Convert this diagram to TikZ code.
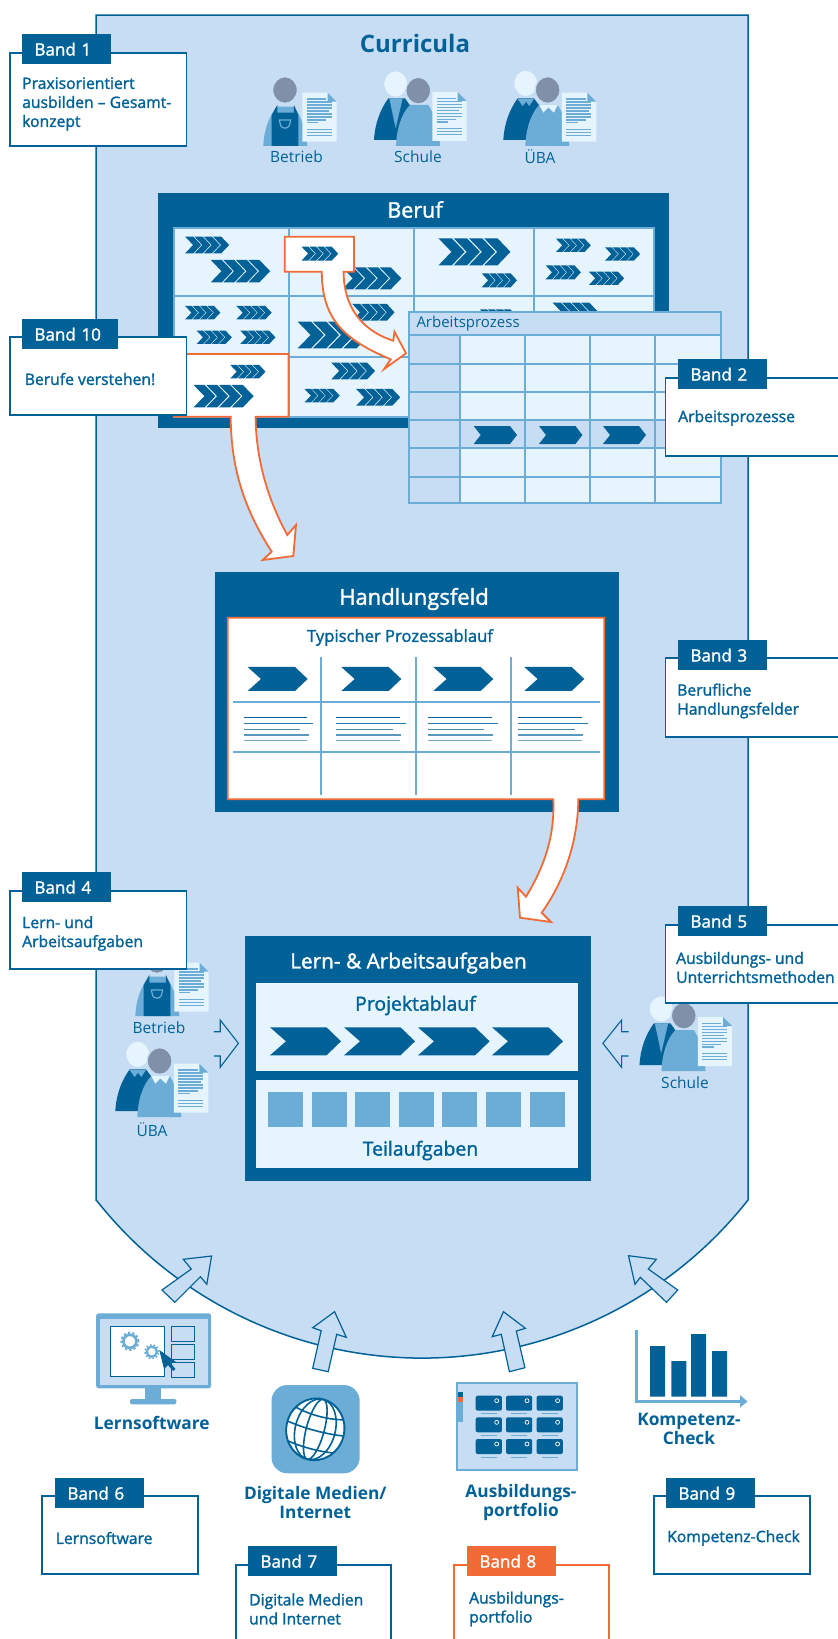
\documentclass[tikz,border=0pt]{standalone}
\usepackage{fontspec}
\setmainfont{Open Sans}
\newfontfamily\semi[FakeBold=1.6]{Open Sans}
\definecolor{dk}{HTML}{026298}
\definecolor{md}{HTML}{6BADD6}
\definecolor{bgb}{HTML}{C6DDF3}
\definecolor{lt}{HTML}{E5F4FD}
\definecolor{org}{HTML}{F26A36}
\definecolor{gry}{HTML}{8090A8}
\newcommand{\fs}[2]{\fontsize{#1}{#2}\selectfont}
\tikzset{
 tabnode/.style={anchor=north west,fill=dk,text=white,inner xsep=0pt,inner ysep=0pt,minimum height=30pt,align=left,font=\semi\fs{17}{20}},
 boxnode/.style={draw=dk,line width=1.6pt,fill=white,inner sep=0pt},
 bandtext/.style={anchor=west,align=left,text=dk,inner sep=0pt,font=\semi\fs{15.7}{19}},
 iconlabel/.style={text=dk,inner sep=0pt,font=\fs{15.5}{19}},
 boldlabel/.style={text=dk,inner sep=0pt,align=center,font=\bfseries\fs{17.3}{19}},
 whitetitle/.style={text=white,inner sep=0pt,font=\semi\fs{20.8}{24}},
 darktitle/.style={text=dk,inner sep=0pt,font=\semi\fs{19.4}{22}},
 arrowwhite/.style={fill=white,draw=org,line width=1.8pt,line join=miter},
 openarrow/.style={draw=dk,line width=1.1pt,line join=miter},
 inarrow/.style={fill=bgb,draw=dk,line width=1.2pt,line join=miter},
 docicon/.pic={
  \begin{scope}[x=0.3333pt,y=-0.3333pt]
   \fill[lt] (157,98)--(233,98)--(260,125)--(260,245)--(157,245)--cycle;
   \fill[md] (233,98)--(260,125)--(233,125)--cycle;
   \foreach \yy/\xe in {117/228,126/245,135/245,144/245,153/237,162/245,171/245,180/228,188/205,208/245,217/245,226/245}
    \draw[md,line width=1.3pt] (170,\yy)--(\xe,\yy);
  \end{scope}},
 worker/.pic={
  \begin{scope}[x=0.3333pt,y=-0.3333pt]
   \fill[md] (40,258) .. controls (42,210) and (55,175) .. (80,140) -- (132,140) .. controls (155,170) and (168,215) .. (172,258) -- cycle;
   \fill[dk] (65,258)--(65,165)--(82,135)--(82,158)--(132,158)--(132,135)--(145,165)--(145,258)--cycle;
   \draw[md,line width=1.2pt] (88,180)--(122,180)--(118,197) .. controls (112,207) and (98,207) .. (92,197) -- cycle;
   \filldraw[fill=gry,draw=bgb,line width=1.2pt] (105,90) ellipse [x radius=37,y radius=40];
   \pic at (0,0) {docicon};
  \end{scope}},
 schule/.pic={
  \begin{scope}[x=0.3333pt,y=-0.3333pt]
   \fill[dk] (372,240) .. controls (375,190) and (390,150) .. (415,115) -- (465,115) -- (490,150) -- (450,240) -- cycle;
   \fill[md] (418,115)--(458,115)--(437,205)--cycle;
   \filldraw[fill=lt,draw=bgb,line width=1.2pt] (437,72) ellipse [x radius=36,y radius=40];
   \fill[md] (438,258) .. controls (440,205) and (455,160) .. (480,135) -- (535,135) .. controls (555,165) and (568,210) .. (570,258) -- cycle;
   \filldraw[fill=gry,draw=bgb,line width=1.2pt] (505,92) ellipse [x radius=37,y radius=40];
   \begin{scope}[shift={(390,-2)}]\pic at (0,0) {docicon};\end{scope}
  \end{scope}},
 uba/.pic={
  \begin{scope}[x=0.3333pt,y=-0.3333pt]
   \fill[dk] (760,240) .. controls (763,190) and (778,150) .. (803,115) -- (852,115) -- (878,150) -- (838,240) -- cycle;
   \fill[md] (803,117)--(852,117)--(838,138)--(828,125)--(818,138)--cycle;
   \filldraw[fill=lt,draw=bgb,line width=1.2pt] (827,70) ellipse [x radius=36,y radius=40];
   \fill[md] (826,258) .. controls (828,205) and (843,160) .. (868,135) -- (923,135) .. controls (943,165) and (956,210) .. (958,258) -- cycle;
   \fill[lt] (868,135)--(923,135)--(912,158)--(895,142)--(880,158)--cycle;
   \filldraw[fill=gry,draw=bgb,line width=1.2pt] (893,90) ellipse [x radius=37,y radius=40];
   \begin{scope}[shift={(779,0)}]\pic at (0,0) {docicon};\end{scope}
  \end{scope}},
}
\newcommand{\bandbox}[9][dk]{%
 \node[boxnode,draw=#1,minimum width={(#5-#3)*1pt},minimum height={(#6-#4)*1pt}] (#2) at ({(#3+#5)/2},{(#4+#6)/2}) {};
 \bandtab{#2}{#1}{#7}{#8}#9}
\newcommand{\bandtab}[6]{%
 \node[tabnode,fill=#2,text width=#5pt] (#1tab) at (#3,#4) {\hspace*{12.3pt}#6};}
\newcommand{\chevbig}[6]{%
 \fill[dk] (#1,#3)--({#2-#6},#3)--(#2,{(#3+#4)/2})--({#2-#6},#4)--(#1,#4)--({#1+#5},{(#3+#4)/2})--cycle;}
\begin{document}
\begin{tikzpicture}[x=1pt,y=-1pt]
\useasboundingbox (0,0) rectangle (838,1639);
\clip (0,0) rectangle (838,1639);
\fill[white] (0,0) rectangle (838,1639);
% Curricula
\filldraw[fill=bgb,draw=dk,line width=1.5pt] (96,1200)--(96,15)--(748,15)--(748,1200)
  arc[start angle=321.75,end angle=218.25,radius=415pt] -- cycle;
\node[text=dk,inner sep=0pt,font=\bfseries\fs{24}{26}] (curr) at (415,43) {Curricula};
\pic at (250,60) {worker};
\pic at (250,60) {schule};
\pic at (250,60) {uba};
\node[iconlabel] (lb1) at (296.5,157) {Betrieb};
\node[iconlabel] (ls1) at (418,157) {Schule};
\node[iconlabel] (lu1) at (540,157) {ÜBA};
% Beruf
\fill[dk] (158,193) rectangle (669,428);
\node[whitetitle,font=\semi\fs{21.5}{24}] (beruf) at (415,209.5) {Beruf};
\filldraw[fill=lt,draw=md,line width=2pt] (174.4,227.7) rectangle (653.6,416.7);
\draw[md,line width=2pt] (289,227.7)--(289,416.7) (414,227.7)--(414,416.7) (534,227.7)--(534,416.7)
 (174.4,295.7)--(653.6,295.7) (174.4,356.7)--(653.6,356.7);
\begin{scope}[shift={(140,190)},x=0.3827pt,y=-0.3333pt]
 \foreach \xa/\xb/\ya/\yb in {118/233/140/190,185/340/210/277,528/683/232/298,780/968/145/226,893/985/250/292,1087/1178/146/186,1215/1307/172/212,1060/1152/226/268,1173/1265/245/285,118/210/348/388,252/344/348/388,148/240/422/462,262/354/422/462,412/600/395/475,555/665/342/392,888/985/358/400,1078/1195/338/388,500/614/518/568,430/522/597/637,565/680/597/647}{
  \pgfmathsetmacro\www{\xb-\xa}
  \foreach \i in {0,1,2,3}{
   \pgfmathsetmacro\xs{\xa+\i*0.2117*\www}
   \pgfmathsetmacro\xt{\xs+0.185*\www}
   \pgfmathsetmacro\xd{0.18*\www}
   \pgfmathsetmacro\ym{(\ya+\yb)/2}
   \fill[dk] (\xs,\ya)--(\xt,\ya)--({\xt+\xd},\ym)--(\xt,\yb)--(\xs,\yb)--({\xs+\xd},\ym)--cycle;
  }
 }
\end{scope}
% Arbeitsprozess table
\fill[lt] (408.7,312.3) rectangle (721,503.3);
\fill[bgb] (408.7,312.3) rectangle (721,335) (408.7,335) rectangle (460.3,503.3) (408.7,420.3) rectangle (721,448.3);
\draw[md,line width=2pt] (408.7,312.3) rectangle (721,503.3);
\draw[md,line width=2pt] (460.3,335)--(460.3,503.3) (525.4,335)--(525.4,503.3) (590,335)--(590,503.3) (654.7,335)--(654.7,503.3)
 (408.7,335)--(721,335) (408.7,363.7)--(721,363.7) (408.7,392)--(721,392) (408.7,420.3)--(721,420.3) (408.7,448.3)--(721,448.3) (408.7,476.7)--(721,476.7);
\node[anchor=west,text=dk,inner sep=0pt,font=\fs{15}{18}] (ap) at (416.3,323.3) {Arbeitsprozess};
\chevbig{473.7}{517}{426}{444}{7}{7}
\chevbig{539}{582.4}{426}{444}{7}{7}
\chevbig{603}{646}{426}{444}{7}{7}
% orange source box 1 with arrow
\filldraw[arrowwhite] (284.7,236.7)--(354,236.7)--(354,271.7)--(343.6,271.7)
 .. controls (343.6,305) and (360,330) .. (393.3,340.7)
 --(394.5,331.7)--(406,353.3)--(384.2,369)--(390.7,359.3)
 .. controls (345,340) and (321.8,320) .. (321.8,271.7)
 --(284.7,271.7)--cycle;
% orange source box 2 with arrow
\filldraw[arrowwhite] (173.7,354)--(288.5,354)--(288.5,416.7)--(255.6,416.7)
 .. controls (256,460) and (268,500) .. (287.3,535)
 --(296,525)--(293.3,556)--(262.7,560)--(271.7,551.7)
 .. controls (245,510) and (231,470) .. (230.7,416.7)
 --(173.7,416.7)--cycle;
\begin{scope}[shift={(140,190)},x=0.3827pt,y=-0.3333pt]
 \foreach \xa/\xb/\ya/\yb in {422/518/170/212,236/328/525/565,140/297/585/652}{
  \pgfmathsetmacro\www{\xb-\xa}
  \foreach \i in {0,1,2,3}{
   \pgfmathsetmacro\xs{\xa+\i*0.2117*\www}
   \pgfmathsetmacro\xt{\xs+0.185*\www}
   \pgfmathsetmacro\xd{0.18*\www}
   \pgfmathsetmacro\ym{(\ya+\yb)/2}
   \fill[dk] (\xs,\ya)--(\xt,\ya)--({\xt+\xd},\ym)--(\xt,\yb)--(\xs,\yb)--({\xs+\xd},\ym)--cycle;
  }
 }
\end{scope}
% Handlungsfeld
\fill[dk] (214.7,571.7) rectangle (619.3,812);
\node[whitetitle,font=\semi\fs{22}{24}] (hf) at (414,599) {Handlungsfeld};
\filldraw[arrowwhite,fill=white] (227.7,617.7)--(604.3,617.7)--(604.3,799.3)--(578.3,799.3)
 .. controls (578,840) and (565,880) .. (541.7,912.7)
 --(551,922)--(520,917.7)--(517.7,887.7)--(526,896.7)
 .. controls (542,870) and (555,840) .. (553.3,799.3)
 --(227.7,799.3)--cycle;
\node[darktitle,font=\semi\fs{16.6}{20}] (tp) at (400,637.5) {Typischer Prozessablauf};
\draw[md,line width=1.7pt] (321,657.3)--(321,795) (416,657.3)--(416,795) (511,657.3)--(511,795) (233,702)--(599.7,702) (233,752)--(599.7,752);
\begin{scope}[shift={(200,500)},x=0.3333pt,y=-0.3333pt]
 \foreach \o in {0,281,557,830}{
  \fill[dk] ({143+\o},501)--({285+\o},501)--({323+\o},537)--({285+\o},573)--({143+\o},573)--({183+\o},537)--cycle;
 }
 \foreach \o in {0,278,553,824}{
  \draw[line width=1.1pt,dk] ({131+\o},652)--({322+\o},652);
  \draw[line width=1.1pt,dk!85!white] ({131+\o},670)--({340+\o},670);
  \draw[line width=1.1pt,dk!75!white] ({131+\o},688)--({300+\o},688);
  \draw[line width=1.1pt,dk!65!white] ({131+\o},705)--({326+\o},705);
  \draw[line width=1.1pt,dk!55!white] ({131+\o},722)--({322+\o},722);
 }
\end{scope}
% Lern- und Arbeitsaufgaben
\fill[dk] (244.8,936) rectangle (591,1180.7);
\node[whitetitle] (la) at (408.5,963) {Lern- \& Arbeitsaufgaben};
\fill[lt] (256,983) rectangle (578.3,1070.7);
\fill[lt] (256,1080) rectangle (578.3,1167.7);
\node[darktitle] (pa) at (415.5,1005.5) {Projektablauf};
\chevbig{270}{341}{1027.3}{1055.3}{16}{14.5}
\chevbig{344}{415}{1027.3}{1055.3}{16}{14.5}
\chevbig{418}{489.6}{1027.3}{1055.3}{16}{14.5}
\chevbig{492}{563}{1027.3}{1055.3}{16}{14.5}
\foreach \xa/\xb in {267.8/303,312/347,355/390,399/434,442/477,486/521,530/565}
 \fill[md] (\xa,1092) rectangle (\xb,1126.7);
\node[darktitle] (ta) at (420.5,1150.5) {Teilaufgaben};
% side people
\pic at (122,930) {worker};
\pic at (-138,1031) {uba};
\pic at (515.5,985) {schule};
\node[iconlabel] (lb2) at (159,1028) {Betrieb};
\node[iconlabel] (lu2) at (152,1130) {ÜBA};
\node[iconlabel] (ls2) at (685,1083) {Schule};
\draw[openarrow] (213.8,1031.7)--(220.2,1031.7)--(220.2,1020)--(238.4,1043.3)--(220.2,1067.3)--(220.2,1056)--(213.8,1056);
\draw[openarrow] (628.5,1031.7)--(621.6,1031.7)--(621.6,1020)--(602.9,1043.3)--(621.6,1067.3)--(621.6,1056)--(628.5,1056);
% incoming arrows
\filldraw[inarrow] (162,1290)--(191.3,1269)--(183.3,1259.3)--(211.6,1256)--(206.8,1284.3)--(200.4,1276.7)--(174.8,1302.3)--cycle;
\filldraw[inarrow] (334.6,1311.7)--(346.3,1337.3)--(336.7,1334.3)--(328.2,1371.7)--(312.7,1368.3)--(321.2,1330.7)--(312.7,1327.7)--cycle;
\filldraw[inarrow] (503.5,1311.7)--(525.4,1328.3)--(516.3,1331)--(524.9,1367.7)--(509.4,1371.7)--(501.3,1334.3)--(492.2,1336.7)--cycle;
\filldraw[inarrow] (628.5,1255.7)--(656.3,1259.3)--(648.3,1269)--(677.7,1290)--(666.5,1302.3)--(640.3,1277.3)--(635,1284.3)--cycle;
% Lernsoftware icon
\fill[md,rounded corners=2.5pt] (96.2,1313.3) rectangle (211,1388.3);
\fill[bgb] (99.5,1318.5) rectangle (208,1385);
\draw[dk,fill=white,line width=0.9pt] (110.6,1326.7) rectangle (164.6,1376.3);
\draw[dk,fill=bgb,line width=0.9pt] (171,1326.7) rectangle (194.5,1341) (171,1344.3) rectangle (194.5,1359) (171,1362) rectangle (194.5,1377);
\fill[md] (145.4,1388) rectangle (161.4,1399);
\fill[md,rounded corners=1.5pt] (130,1399) rectangle (176.4,1404.3);
\draw[md,line width=2.6pt] (129.9,1341.3) circle[radius=6.5pt];
\draw[md,line width=2pt,dash pattern=on 2.2pt off 2.2pt] (129.9,1341.3) circle[radius=8.6pt];
\draw[md,line width=2.2pt] (151.8,1351.7) circle[radius=5pt];
\draw[md,line width=1.6pt,dash pattern=on 1.8pt off 1.8pt] (151.8,1351.7) circle[radius=6.8pt];
\fill[dk] (159.3,1350)--(176,1362)--(170.5,1363)--(175.5,1369)--(173,1371)--(168,1365)--(164,1369)--cycle;
\node[boldlabel] (lsw) at (151.8,1423) {Lernsoftware};
% globe icon
\fill[md,rounded corners=16pt] (271.5,1385) rectangle (359.7,1473.3);
\begin{scope}[shift={(315.3,1429.3)},rotate=-15]
 \filldraw[fill=white,draw=dk,line width=1.9pt] (0,0) ellipse[x radius=29,y radius=31];
 \begin{scope}
  \clip (0,0) ellipse[x radius=29,y radius=31];
  \draw[dk,line width=1.6pt] (0,0) ellipse[x radius=9,y radius=31] (0,0) ellipse[x radius=20,y radius=31]
   (-30,-18) .. controls (-12,-12) and (12,-12) .. (30,-18)
   (-30,-1) .. controls (-12,2) and (12,2) .. (30,-1)
   (-30,17) .. controls (-12,21) and (12,21) .. (30,17);
 \end{scope}
\end{scope}
\node[boldlabel] (ldm) at (315.3,1502.2) {Digitale Medien/\\Internet};
% portfolio icon
\filldraw[fill=bgb,draw=md,line width=1.8pt] (457,1383) rectangle (577.2,1470.3);
\fill[dk] (458,1391.7) rectangle (463,1396.7);
\fill[org] (458,1396.7) rectangle (463,1401.7);
\fill[md] (458,1401.7) rectangle (463,1421.7);
\foreach \xa in {475.7,506,536.6}
 \foreach \ya in {1395.7,1417.3,1439}{
  \fill[dk,rounded corners=2pt] (\xa,\ya) rectangle ({\xa+26.2},{\ya+15});
  \draw[white,line width=0.7pt] ({\xa+21},{\ya+5}) circle[radius=2pt];
  \draw[md,line width=1pt] ({\xa+5},{\ya+18}) -- ({\xa+21},{\ya+18});
 }
\node[boldlabel] (lap) at (521,1502.2) {Ausbildungs-\\portfolio};
% chart icon
\fill[dk] (650,1346) rectangle (665,1396.7) (671.3,1361) rectangle (686.3,1396.7) (691,1334) rectangle (706,1396.7) (712,1351) rectangle (727,1396.7);
\draw[md,line width=3pt] (636,1330)--(636,1401.7)--(742,1401.7);
\fill[md] (740,1395)--(747.5,1401.5)--(740,1407.5)--cycle;
\node[boldlabel] (lk) at (689,1429.3) {Kompetenz-\\Check};
% Band boxes
\bandbox{bi}{10}{53}{186.5}{146}{22}{34}{{89}{Band 1}}
\node[bandtext] (ti) at (22,104) {Praxisorientiert\\ausbilden – Gesamt-\\konzept};
\bandbox{bx}{10}{337}{186.5}{415}{22}{319}{{96}{Band 10}}
\node[bandtext] (tx) at (24.6,379) {Berufe verstehen!};
\bandbox{bii}{665.4}{378}{850}{456}{678}{359}{{89}{Band 2}}
\node[bandtext] (tii) at (678,418) {Arbeitsprozesse};
\bandbox{biii}{665.4}{658}{850}{737}{678}{640}{{89}{Band 3}}
\node[bandtext] (tiii) at (677,701) {Berufliche\\Handlungsfelder};
\bandbox{biv}{10}{891}{186.5}{969}{22}{872}{{89}{Band 4}}
\node[bandtext] (tiv) at (22,933.5) {Lern- und\\Arbeitsaufgaben};
\bandbox{bv}{665.4}{925}{850}{1003}{678}{906}{{89}{Band 5}}
\node[bandtext] (tv) at (676,967.5) {Ausbildungs- und\\Unterrichtsmethoden};
\bandbox{bvi}{42}{1496}{198}{1574}{55}{1478}{{89}{Band 6}}
\node[bandtext] (tvi) at (55.6,1538) {Lernsoftware};
\bandbox{bvii}{236}{1565}{391}{1660}{248}{1546}{{89}{Band 7}}
\node[bandtext] (tvii) at (249,1609) {Digitale Medien\\und Internet};
\bandbox[org]{bviii}{454}{1565}{609}{1660}{467}{1546}{{89}{Band 8}}
\node[bandtext] (tviii) at (469,1609) {Ausbildungs-\\portfolio};
\bandbox{bix}{654}{1496}{810}{1574}{666}{1478}{{89}{Band 9}}
\node[bandtext] (tix) at (667,1538) {Kompetenz-Check};
\end{tikzpicture}
\end{document}
